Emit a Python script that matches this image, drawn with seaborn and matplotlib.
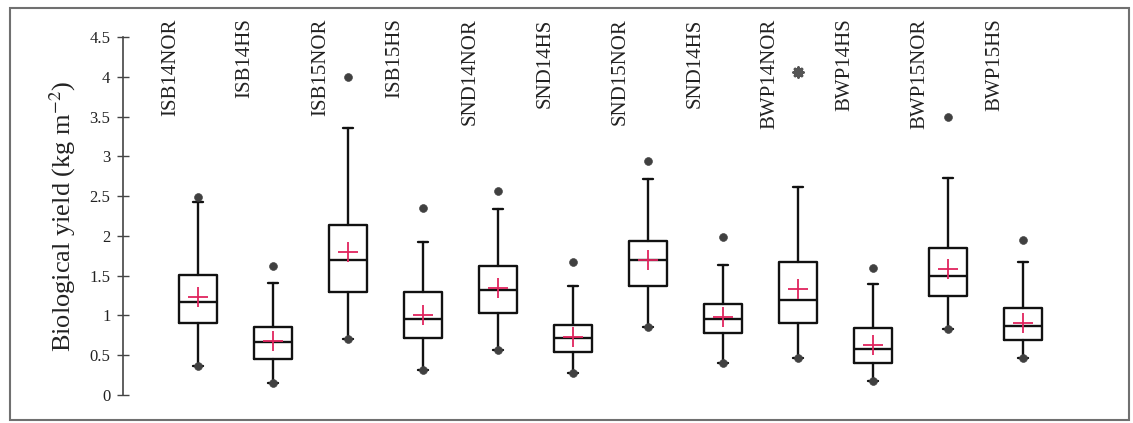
import matplotlib
matplotlib.use("Agg")
import matplotlib.pyplot as plt
import matplotlib.transforms as mtransforms
from matplotlib.patches import Rectangle
import numpy as np
import pandas as pd
import seaborn as sns

# Treatments (site + year + regime)
groups = ["ISB14NOR", "ISB14HS", "ISB15NOR", "ISB15HS",
          "SND14NOR", "SND14HS", "SND15NOR", "SND14HS",
          "BWP14NOR", "BWP14HS", "BWP15NOR", "BWP15HS"]

# Box statistics of biological yield (kg m-2)
q1 = [0.90, 0.45, 1.29, 0.72, 1.03, 0.54, 1.37, 0.78, 0.91, 0.40, 1.25, 0.69]
median = [1.17, 0.66, 1.70, 0.955, 1.32, 0.72, 1.70, 0.95, 1.19, 0.58, 1.49, 0.87]
q3 = [1.51, 0.86, 2.14, 1.29, 1.62, 0.88, 1.94, 1.14, 1.67, 0.84, 1.85, 1.09]
mean = [1.23, 0.68, 1.80, 1.00, 1.34, 0.73, 1.70, 0.98, 1.33, 0.63, 1.59, 0.91]
minimum = [0.36, 0.15, 0.71, 0.31, 0.57, 0.28, 0.85, 0.40, 0.46, 0.17, 0.83, 0.46]
upper_whisker = [2.43, 1.41, 3.35, 1.92, 2.34, 1.37, 2.72, 1.63, 2.62, 1.40, 2.73, 1.67]
maximum = [2.49, 1.62, 4.00, 2.35, 2.57, 1.67, 2.94, 1.99, 4.06, 1.60, 3.50, 1.95]
extreme = [False, False, False, False, False, False, False, False, True, False, False, False]

yticks = [0, 0.5, 1, 1.5, 2, 2.5, 3, 3.5, 4, 4.5]
ytick_labels = ["0", "0.5", "1", "1.5", "2", "2.5", "3", "3.5", "4", "4.5"]

sns.set_theme(style="white")
plt.rcParams["font.family"] = ["Liberation Serif", "DejaVu Serif"]
plt.rcParams["mathtext.fontset"] = "stix"

W, H = 1133, 423
fig = plt.figure(figsize=(W / 100, H / 100), dpi=100, facecolor="white")
ax = fig.add_axes([123 / W, 1 - 395 / H, (1125 - 123) / W, (395 - 37) / H])
ax.set_facecolor("white")

pos = np.arange(len(groups))
stats = [dict(med=m, q1=a, q3=b, whislo=lo, whishi=hi, mean=mu, fliers=[])
         for m, a, b, lo, hi, mu in zip(median, q1, q3, minimum, upper_whisker, mean)]
line = dict(color="#111111", linewidth=1.7)
ax.bxp(stats, positions=pos, widths=0.51, capwidths=0.13,
       showmeans=False, showfliers=False,
       boxprops=line, whiskerprops=line, capprops=line, medianprops=line)

df = pd.DataFrame({"pos": pos, "mean": mean, "min": minimum,
                   "max": maximum, "extreme": extreme})

# Mean markers
sns.scatterplot(data=df, x="pos", y="mean", marker="+", s=190, color="#e0245e",
                linewidth=1.3, ax=ax, zorder=6, legend=False)
# Minimum and maximum points
sns.scatterplot(data=df, x="pos", y="min", marker="o", s=32, color="#404040",
                edgecolor="#404040", ax=ax, zorder=5, legend=False)
sns.scatterplot(data=df[~df["extreme"]], x="pos", y="max", marker="o", s=32,
                color="#404040", edgecolor="#404040", ax=ax, zorder=5, legend=False)
sns.scatterplot(data=df[df["extreme"]], x="pos", y="max", marker=(8, 2, 0), s=45,
                color="#555555", linewidth=2.2, ax=ax, zorder=5, legend=False)

ax.set_xlim(-1.0, 12.36)
ax.set_ylim(0, 4.5)
ax.set_xticks([])
ax.set_yticks(yticks)
ax.set_yticklabels(ytick_labels, fontsize=12, color="#222222")
ax.tick_params(axis="y", direction="inout", length=8, width=1.0, color="#444444",
               pad=5, left=True)
ax.set_xlabel("")
ax.set_ylabel("Biological yield (kg m$^{-2}$)", fontsize=19, color="#222222",
              labelpad=8)
sns.despine(ax=ax, left=False, bottom=True, top=True, right=True)
ax.spines["left"].set_color("#444444")
ax.spines["left"].set_linewidth(1.2)

# Treatment names above each box
trans = mtransforms.blended_transform_factory(ax.transData, ax.transAxes)
for p, name in zip(pos, groups):
    ax.text(p - 0.37, 1.052, name, rotation=90, ha="center", va="top",
            fontsize=15, color="#222222", transform=trans, clip_on=False)

# Outer frame
fig.patches.append(Rectangle((10 / W, 1 - 420 / H), (1129 - 10) / W, (420 - 8) / H,
                             transform=fig.transFigure, fill=False,
                             edgecolor="#707070", linewidth=1.5))

fig.savefig("out.png", dpi=100, facecolor="white")
